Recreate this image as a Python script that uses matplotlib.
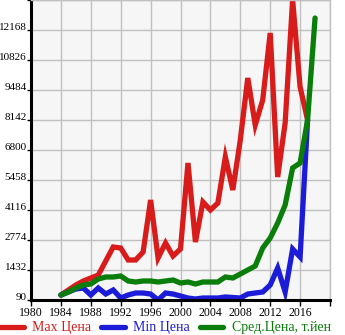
import matplotlib
matplotlib.use("Agg")
import matplotlib.pyplot as plt
from matplotlib.lines import Line2D

plt.rcParams["font.family"] = ["Liberation Serif", "DejaVu Serif"]

# yearly prices
years = list(range(1984, 2018))
max_price = [314, 537, 761, 940, 1074, 1208, 1835, 2461, 2416, 1879,
             1879, 2237, 4563, 1969, 2640, 2058, 2371, 6218, 2684, 4474,
             4116, 4429, 6487, 5011, 7247, 10021, 7918, 9037, 12034, 5592,
             8008, 13520, 9618, 8142]
min_price = [314, 448, 582, 627, 314, 627, 358, 537, 179, 314,
             403, 403, 358, 90, 403, 358, 269, 179, 135, 179,
             179, 179, 224, 202, 179, 358, 403, 448, 761, 1521,
             448, 2371, 2013, 8142]
avg_years = list(range(1984, 2019))
avg_price = [314, 448, 627, 761, 806, 1029, 1119, 1119, 1164, 940,
             895, 940, 940, 895, 940, 985, 850, 895, 806, 895,
             895, 895, 1119, 1074, 1253, 1432, 1611, 2416, 2863, 3534,
             4340, 5995, 6218, 8142, 12704]

y_ticks = [90, 1432, 2774, 4116, 5458, 6800, 8142, 9484, 10826, 12168, 13510]
x_ticks = list(range(1980, 2021, 4))

red = "#d81c1c"
blue = "#1c1cd8"
green = "#0a7d0a"

fig = plt.figure(figsize=(3.45, 3.35), dpi=100)
ax = fig.add_axes([31 / 345, 35 / 335, 299 / 345, 300 / 335])
ax.set_facecolor("#f6f6f6")

lw = 3.8
ax.plot(years, max_price, color=red, lw=lw, solid_capstyle="round", solid_joinstyle="miter")
ax.plot(years, min_price, color=blue, lw=lw, solid_capstyle="round", solid_joinstyle="miter")
ax.plot(avg_years, avg_price, color=green, lw=lw, solid_capstyle="round", solid_joinstyle="miter")

ax.set_xlim(1980, 2020)
ax.set_ylim(90, 13510)
ax.set_xticks(x_ticks)
ax.set_yticks(y_ticks)
ax.set_xticklabels([str(t) if t < 2020 else "" for t in x_ticks], fontsize=8.5)
ax.set_yticklabels([str(t) if t < 13510 else "" for t in y_ticks], fontsize=8)
for lab in ax.get_yticklabels():
    lab.set_verticalalignment("baseline")

ax.grid(True, color="#c0c0c0", lw=1)
ax.set_axisbelow(True)
ax.tick_params(axis="y", length=3, width=1, pad=0, colors="black")
ax.tick_params(axis="x", length=4, width=1, pad=1, colors="black")
for side in ["top", "right"]:
    ax.spines[side].set_color("#c0c0c0")
    ax.spines[side].set_linewidth(1)
for side in ["left", "bottom"]:
    ax.spines[side].set_color("black")
    ax.spines[side].set_linewidth(2.2)

handles = [Line2D([], [], color=c, lw=lw, solid_capstyle="round") for c in (red, blue, green)]
leg = fig.legend(handles, ["Мах Цена", "Min Цена", "Сред.Цена, т.йен"],
                 loc="lower left", bbox_to_anchor=(-0.015, -0.015), ncol=3, frameon=False,
                 fontsize=10, handlelength=1.7, handletextpad=0.6, columnspacing=0.7,
                 borderaxespad=0)
for txt, c in zip(leg.get_texts(), (red, blue, green)):
    txt.set_color(c)

fig.savefig("out.png", dpi=100)
